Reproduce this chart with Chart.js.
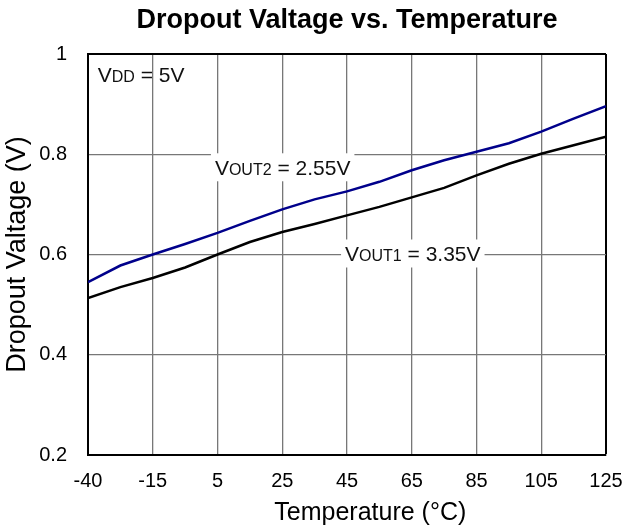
<!DOCTYPE html>
<html>
<head>
<meta charset="utf-8">
<script src="https://cdn.jsdelivr.net/npm/chart.js@4.4.1/dist/chart.umd.min.js"></script>
<style>
  html, body { margin: 0; padding: 0; background: #fff; }
  canvas { display: block; }
</style>
</head>
<body>
<canvas id="dropoutChart" width="624" height="530"></canvas>
<script>
// Tick labels along the x axis (equally spaced in the original)
const tempTicks = [-40, -15, 5, 25, 45, 65, 85, 105, 125];
const voltTicks = [0.2, 0.4, 0.6, 0.8, 1];

// Measured temperatures (°C)
const temps = [-40, -27.5, -15, -5, 5, 15, 25, 35, 45, 55, 65, 75, 85, 95, 105, 115, 125];

// Dropout voltage (V)
const vout1 = [0.513, 0.535, 0.553, 0.574, 0.600, 0.625, 0.645, 0.661, 0.678, 0.695, 0.714, 0.733, 0.758, 0.781, 0.801, 0.818, 0.835];
const vout2 = [0.545, 0.578, 0.600, 0.621, 0.643, 0.667, 0.690, 0.710, 0.726, 0.745, 0.768, 0.788, 0.805, 0.822, 0.845, 0.871, 0.896];

const FONT = "'Liberation Sans', Arial, sans-serif";

// map a temperature onto the evenly spaced tick positions
function tempPos(t) {
    for (let i = 0; i < tempTicks.length - 1; i++) {
        const a = tempTicks[i], b = tempTicks[i + 1];
        if (t <= b || i === tempTicks.length - 2) {
            return i + (t - a) / (b - a);
        }
    }
}

const toPoints = (vals) => temps.map((t, i) => ({ x: tempPos(t), y: vals[i] }));

// Text labels inside the plot: V + subscript + rest, optional white box
const notes = [
    { sub: 'DD', rest: ' = 5V', x: 0.15, y: 0.96, box: false },
    { sub: 'OUT2', rest: ' = 2.55V', x: 1.96, y: 0.774, box: true },
    { sub: 'OUT1', rest: ' = 3.35V', x: 3.97, y: 0.602, box: true }
];

const notesPlugin = {
    id: 'notes',
    beforeDatasetsDraw(chart) {
        const { ctx, scales } = chart;
        const big = '21px ' + FONT, small = '16px ' + FONT;
        notes.forEach(n => {
            const x = scales.x.getPixelForValue(n.x);
            const y = scales.y.getPixelForValue(n.y);
            ctx.save();
            ctx.textBaseline = 'alphabetic';
            ctx.font = big;
            const wV = ctx.measureText('V').width;
            const wR = ctx.measureText(n.rest).width;
            ctx.font = small;
            const wS = ctx.measureText(n.sub).width;
            const base = y + 7.5;
            if (n.box) {
                ctx.fillStyle = '#fff';
                ctx.fillRect(x - 4, y - 14, wV + wS + wR + 8, 28);
            }
            ctx.fillStyle = '#111';
            ctx.font = big;
            ctx.fillText('V', x, base);
            ctx.font = small;
            ctx.fillText(n.sub, x + wV, base);
            ctx.font = big;
            ctx.fillText(n.rest, x + wV + wS, base);
            ctx.restore();
        });
    },
    // x axis title sits right of the plot centre in the original
    afterDraw(chart) {
        const { ctx, scales } = chart;
        ctx.save();
        ctx.font = '25px ' + FONT;
        ctx.fillStyle = '#000';
        ctx.textAlign = 'center';
        ctx.textBaseline = 'middle';
        ctx.fillText('Temperature (°C)', scales.x.getPixelForValue(4.36), scales.x.bottom - 17);
        ctx.restore();
    }
};

const gridGray = '#777777';

new Chart(document.getElementById('dropoutChart'), {
    type: 'line',
    data: {
        datasets: [
            {
                label: 'VOUT1 = 3.35V',
                data: toPoints(vout1),
                borderColor: '#000000',
                borderWidth: 2.5,
                pointRadius: 0,
                tension: 0
            },
            {
                label: 'VOUT2 = 2.55V',
                data: toPoints(vout2),
                borderColor: '#00008b',
                borderWidth: 2.5,
                pointRadius: 0,
                tension: 0
            }
        ]
    },
    options: {
        responsive: false,
        animation: false,
        layout: { padding: { right: 18, left: 0, top: 0, bottom: 0 } },
        plugins: {
            legend: { display: false },
            tooltip: { enabled: false },
            title: {
                display: true,
                fullSize: false,
                text: 'Dropout Valtage vs. Temperature',
                color: '#000',
                font: { family: FONT, size: 27, weight: 'bold' },
                padding: { top: 4, bottom: 17.6 }
            }
        },
        scales: {
            x: {
                type: 'linear',
                min: 0,
                max: tempTicks.length - 1,
                afterFit: s => { s.height = 75; s.paddingRight = 0; s.paddingLeft = 0; },
                afterBuildTicks: s => { s.ticks = tempTicks.map((t, i) => ({ value: i })); },
                ticks: {
                    autoSkip: false,
                    maxRotation: 0,
                    padding: 14,
                    color: '#000',
                    font: { family: FONT, size: 20 },
                    callback: (v) => String(tempTicks[v])
                },
                grid: {
                    drawTicks: false,
                    color: ctx => ctx.index === tempTicks.length - 1 ? '#000' : gridGray,
                    lineWidth: ctx => ctx.index === tempTicks.length - 1 ? 2 : 1.3
                },
                border: { color: '#000', width: 2 }
            },
            y: {
                min: voltTicks[0],
                max: voltTicks[voltTicks.length - 1],
                afterFit: s => { s.width = 88; },
                afterBuildTicks: s => { s.ticks = voltTicks.map(v => ({ value: v })); },
                ticks: {
                    padding: 21,
                    color: '#000',
                    font: { family: FONT, size: 20 },
                    callback: (v) => String(+v.toFixed(1))
                },
                grid: {
                    drawTicks: false,
                    color: ctx => ctx.tick && ctx.tick.value === 1 ? '#000' : gridGray,
                    lineWidth: ctx => ctx.tick && ctx.tick.value === 1 ? 2 : 1.3
                },
                border: { color: '#000', width: 2 },
                title: {
                    display: true,
                    text: 'Dropout Valtage (V)',
                    color: '#000',
                    font: { family: FONT, size: 27 },
                    padding: { top: 1, bottom: 1 }
                }
            }
        }
    },
    plugins: [notesPlugin]
});
</script>
</body>
</html>
